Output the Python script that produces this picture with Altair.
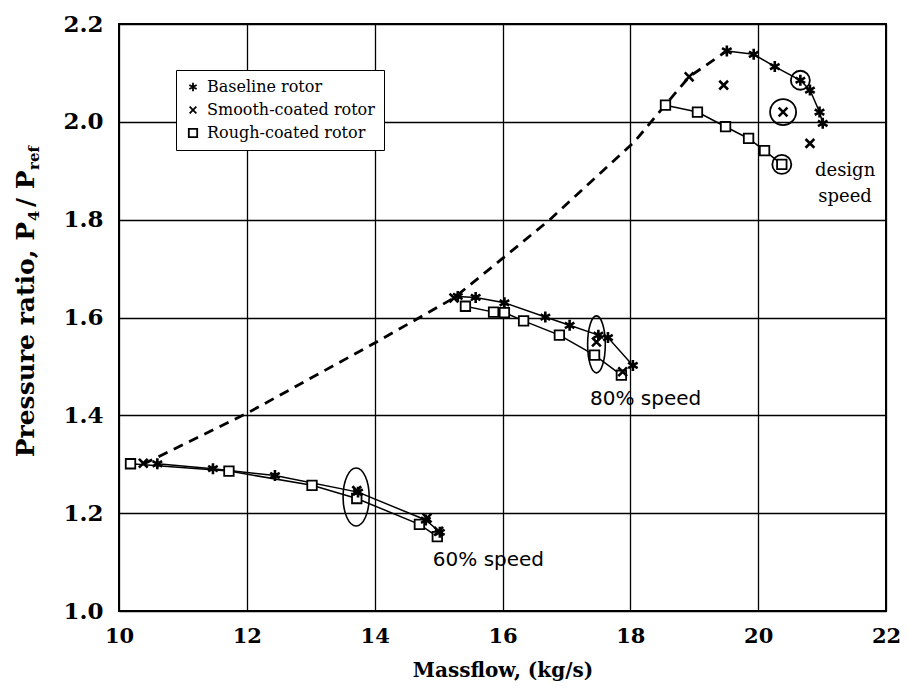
import altair as alt
import pandas as pd

# ---------------- data ----------------
series_names = ["Baseline rotor", "Smooth-coated rotor", "Rough-coated rotor"]

# 60% speed
b60_x = [10.60, 11.47, 12.44, 13.74, 14.80, 15.02]
b60_y = [1.301, 1.291, 1.277, 1.243, 1.186, 1.161]
s60_x = [10.38, 13.72, 14.82, 15.00]
s60_y = [1.302, 1.246, 1.190, 1.163]
r60_x = [10.18, 11.72, 13.02, 13.72, 14.70, 14.98]
r60_y = [1.301, 1.286, 1.257, 1.230, 1.177, 1.152]
# 80% speed
b80_x = [15.30, 15.58, 16.03, 16.67, 17.05, 17.50, 17.65, 18.04]
b80_y = [1.643, 1.641, 1.630, 1.601, 1.584, 1.564, 1.559, 1.502]
s80_x = [15.24, 17.47, 17.88]
s80_y = [1.640, 1.550, 1.489]
r80_x = [15.42, 15.86, 16.03, 16.33, 16.89, 17.44, 17.86]
r80_y = [1.623, 1.611, 1.610, 1.593, 1.564, 1.523, 1.482]
# design speed
bd_x = [19.51, 19.93, 20.26, 20.66, 20.81, 20.96, 21.01]
bd_y = [2.145, 2.138, 2.113, 2.085, 2.065, 2.020, 1.997]
sd_x = [18.92, 19.46, 20.39, 20.81]
sd_y = [2.092, 2.075, 2.020, 1.956]
rd_x = [18.55, 19.05, 19.49, 19.85, 20.10, 20.37]
rd_y = [2.034, 2.020, 1.990, 1.966, 1.941, 1.913]

# surge line (dashed)
surge_x = [10.38, 12.00, 14.03, 15.24, 15.90, 16.74, 18.07, 18.55, 18.92, 19.51]
surge_y = [1.300, 1.404, 1.550, 1.640, 1.710, 1.800, 1.960, 2.035, 2.092, 2.145]

# circled points (x, y, diameter px)
ring_x = [20.66, 20.39, 20.37]
ring_y = [2.085, 2.020, 1.913]
ring_d = [19, 26, 19]

# ellipses (x, y, height px, width/height ratio)
ell_x = [13.71, 17.47]
ell_y = [1.233, 1.545]
ell_h = [58, 57]
ell_r = [0.45, 0.31]

# annotations
note_text = ["60% speed", "80% speed"]
note_x = [15.78, 18.24]
note_y = [1.104, 1.433]
design_text = [["design", "speed"]]
design_x = [21.36]
design_y = [1.899]

x_ticks = [10, 12, 14, 16, 18, 20, 22]
y_ticks = [1.0, 1.2, 1.4, 1.6, 1.8, 2.0, 2.2]

# ---------------- tables ----------------
rows = []
def add(xs, ys, name, speed):
    for x, y in zip(xs, ys):
        rows.append({"x": x, "y": y, "series": name, "group": name + speed})

add(b60_x, b60_y, series_names[0], "60")
add(s60_x, s60_y, series_names[1], "60")
add(r60_x, r60_y, series_names[2], "60")
add(b80_x, b80_y, series_names[0], "80")
add(s80_x, s80_y, series_names[1], "80")
add(r80_x, r80_y, series_names[2], "80")
add(bd_x, bd_y, series_names[0], "100")
add(sd_x, sd_y, series_names[1], "100")
add(rd_x, rd_y, series_names[2], "100")
pts = pd.DataFrame(rows)

surge = pd.DataFrame({"x": surge_x, "y": surge_y})
rings = pd.DataFrame({"x": ring_x, "y": ring_y, "s": [d * d for d in ring_d]})
ells = pd.DataFrame({
    "x": ell_x, "y": ell_y,
    "s": [h * h for h in ell_h],
    "p": [f"M0,-1A{r},1 0 1,1 0,1A{r},1 0 1,1 0,-1Z" for r in ell_r],
})
notes = pd.DataFrame({"t": note_text, "x": note_x, "y": note_y})
design = pd.DataFrame({"t": design_text, "x": design_x, "y": design_y})

SERIF = "DejaVu Serif"
ASTER = "M0,-1L0,1M-0.87,-0.5L0.87,0.5M-0.87,0.5L0.87,-0.5"
CROSS = "M-0.8,-0.8L0.8,0.8M-0.8,0.8L0.8,-0.8"
SHAPES = [ASTER, CROSS, "square"]

xs = alt.Scale(domain=[10, 22], nice=False, zero=False)
ys = alt.Scale(domain=[1.0, 2.2], nice=False, zero=False)

X = alt.X("x:Q", scale=xs, title="Massflow, (kg/s)",
          axis=alt.Axis(values=x_ticks, format="d", labelFlush=False))
Y = alt.Y("y:Q", scale=ys, title=None,
          axis=alt.Axis(values=y_ticks, format=".1f", labelFlush=False,
                        labelFontSize=23, labelPadding=16))

base = alt.Chart(pts).mark_point(opacity=0).encode(x=X, y=Y)

lines = alt.Chart(pts).transform_filter(
    alt.FieldOneOfPredicate(field="series", oneOf=[series_names[0], series_names[2]])
).mark_line(color="black", strokeWidth=1.5).encode(
    x="x:Q", y="y:Q", detail="group:N", order="x:Q"
)

surge_line = alt.Chart(surge).mark_line(
    color="black", strokeWidth=2.8, strokeDash=[10, 7]
).encode(x="x:Q", y="y:Q", order="x:Q")

# invisible layer that carries the legend
legend_layer = alt.Chart(pts).mark_point(opacity=0, filled=False, color="black").encode(
    x="x:Q", y="y:Q",
    shape=alt.Shape("series:N",
                    scale=alt.Scale(domain=series_names, range=SHAPES),
                    legend=alt.Legend(title=None, orient="none", legendX=57, legendY=46,
                                      fillColor="white", strokeColor="black",
                                      padding=9, labelFont=SERIF, labelFontSize=16,
                                      labelColor="black", labelLimit=0, symbolSize=70,
                                      symbolStrokeColor="black", symbolStrokeWidth=1.8,
                                      symbolFillColor="white", symbolOpacity=1,
                                      rowPadding=7, labelOffset=6)),
)

square_pts = alt.Chart(pts).transform_filter(
    alt.datum.series == series_names[2]
).mark_point(shape="square", filled=True, fill="white", stroke="black", opacity=1,
             strokeWidth=1.8, size=90).encode(x="x:Q", y="y:Q")

other_pts = alt.Chart(pts).transform_filter(
    alt.datum.series != series_names[2]
).mark_point(filled=False, color="black", strokeWidth=2.6, size=120, opacity=1).encode(
    x="x:Q", y="y:Q",
    shape=alt.Shape("series:N",
                    scale=alt.Scale(domain=series_names, range=SHAPES),
                    legend=None),
)

ring_marks = alt.Chart(rings).mark_point(
    shape="circle", filled=False, color="black", strokeWidth=1.8, opacity=1
).encode(x="x:Q", y="y:Q", size=alt.Size("s:Q", scale=None))

ell_marks = alt.Chart(ells).mark_point(
    filled=False, color="black", strokeWidth=1.6, opacity=1
).encode(x="x:Q", y="y:Q", size=alt.Size("s:Q", scale=None),
         shape=alt.Shape("p:N", scale=None))

note_marks = alt.Chart(notes).mark_text(
    font="DejaVu Sans", fontSize=20, color="black"
).encode(x="x:Q", y="y:Q", text="t:N")

design_marks = alt.Chart(design).mark_text(
    font=SERIF, fontSize=18, color="black", lineHeight=26
).encode(x="x:Q", y="y:Q", text="t")

# y-axis title in pieces (with subscripts)
anchor = pd.DataFrame({"k": [0]})
def ypiece(txt, size, align, dx, dy):
    return alt.Chart(anchor).mark_text(
        text=txt, angle=270, font=SERIF, fontWeight="bold", fontSize=size,
        color="black", align=align, baseline="middle", dx=dx, dy=dy
    ).encode(x=alt.value(-93), y=alt.value(198))

ytitle = (ypiece("Pressure ratio, P", 25, "right", 0, 0)
          + ypiece("4", 15, "left", 1, 8)
          + ypiece("/ P", 25, "left", 15, 0)
          + ypiece("ref", 15, "left", 52, 8))

chart = alt.layer(
    base, surge_line, lines, ell_marks, ring_marks, legend_layer,
    square_pts, other_pts, note_marks, design_marks, ytitle
).properties(
    width=767, height=587,
    autosize=alt.AutoSizeParams(type="none"),
    padding={"left": 111, "top": 16, "right": 15, "bottom": 80},
    background="white",
).configure_view(
    stroke="black", strokeWidth=2
).configure_axis(
    grid=True, gridColor="black", gridWidth=1.3, gridOpacity=1,
    domain=False, ticks=False,
    labelFont=SERIF, labelFontWeight="bold", labelFontSize=21, labelColor="black",
    titleFont=SERIF, titleFontWeight="bold", titleFontSize=20, titleColor="black",
).configure_axisX(titlePadding=14, labelPadding=14)

chart.save("out.html", embed_options={"renderer": "svg", "actions": False})
